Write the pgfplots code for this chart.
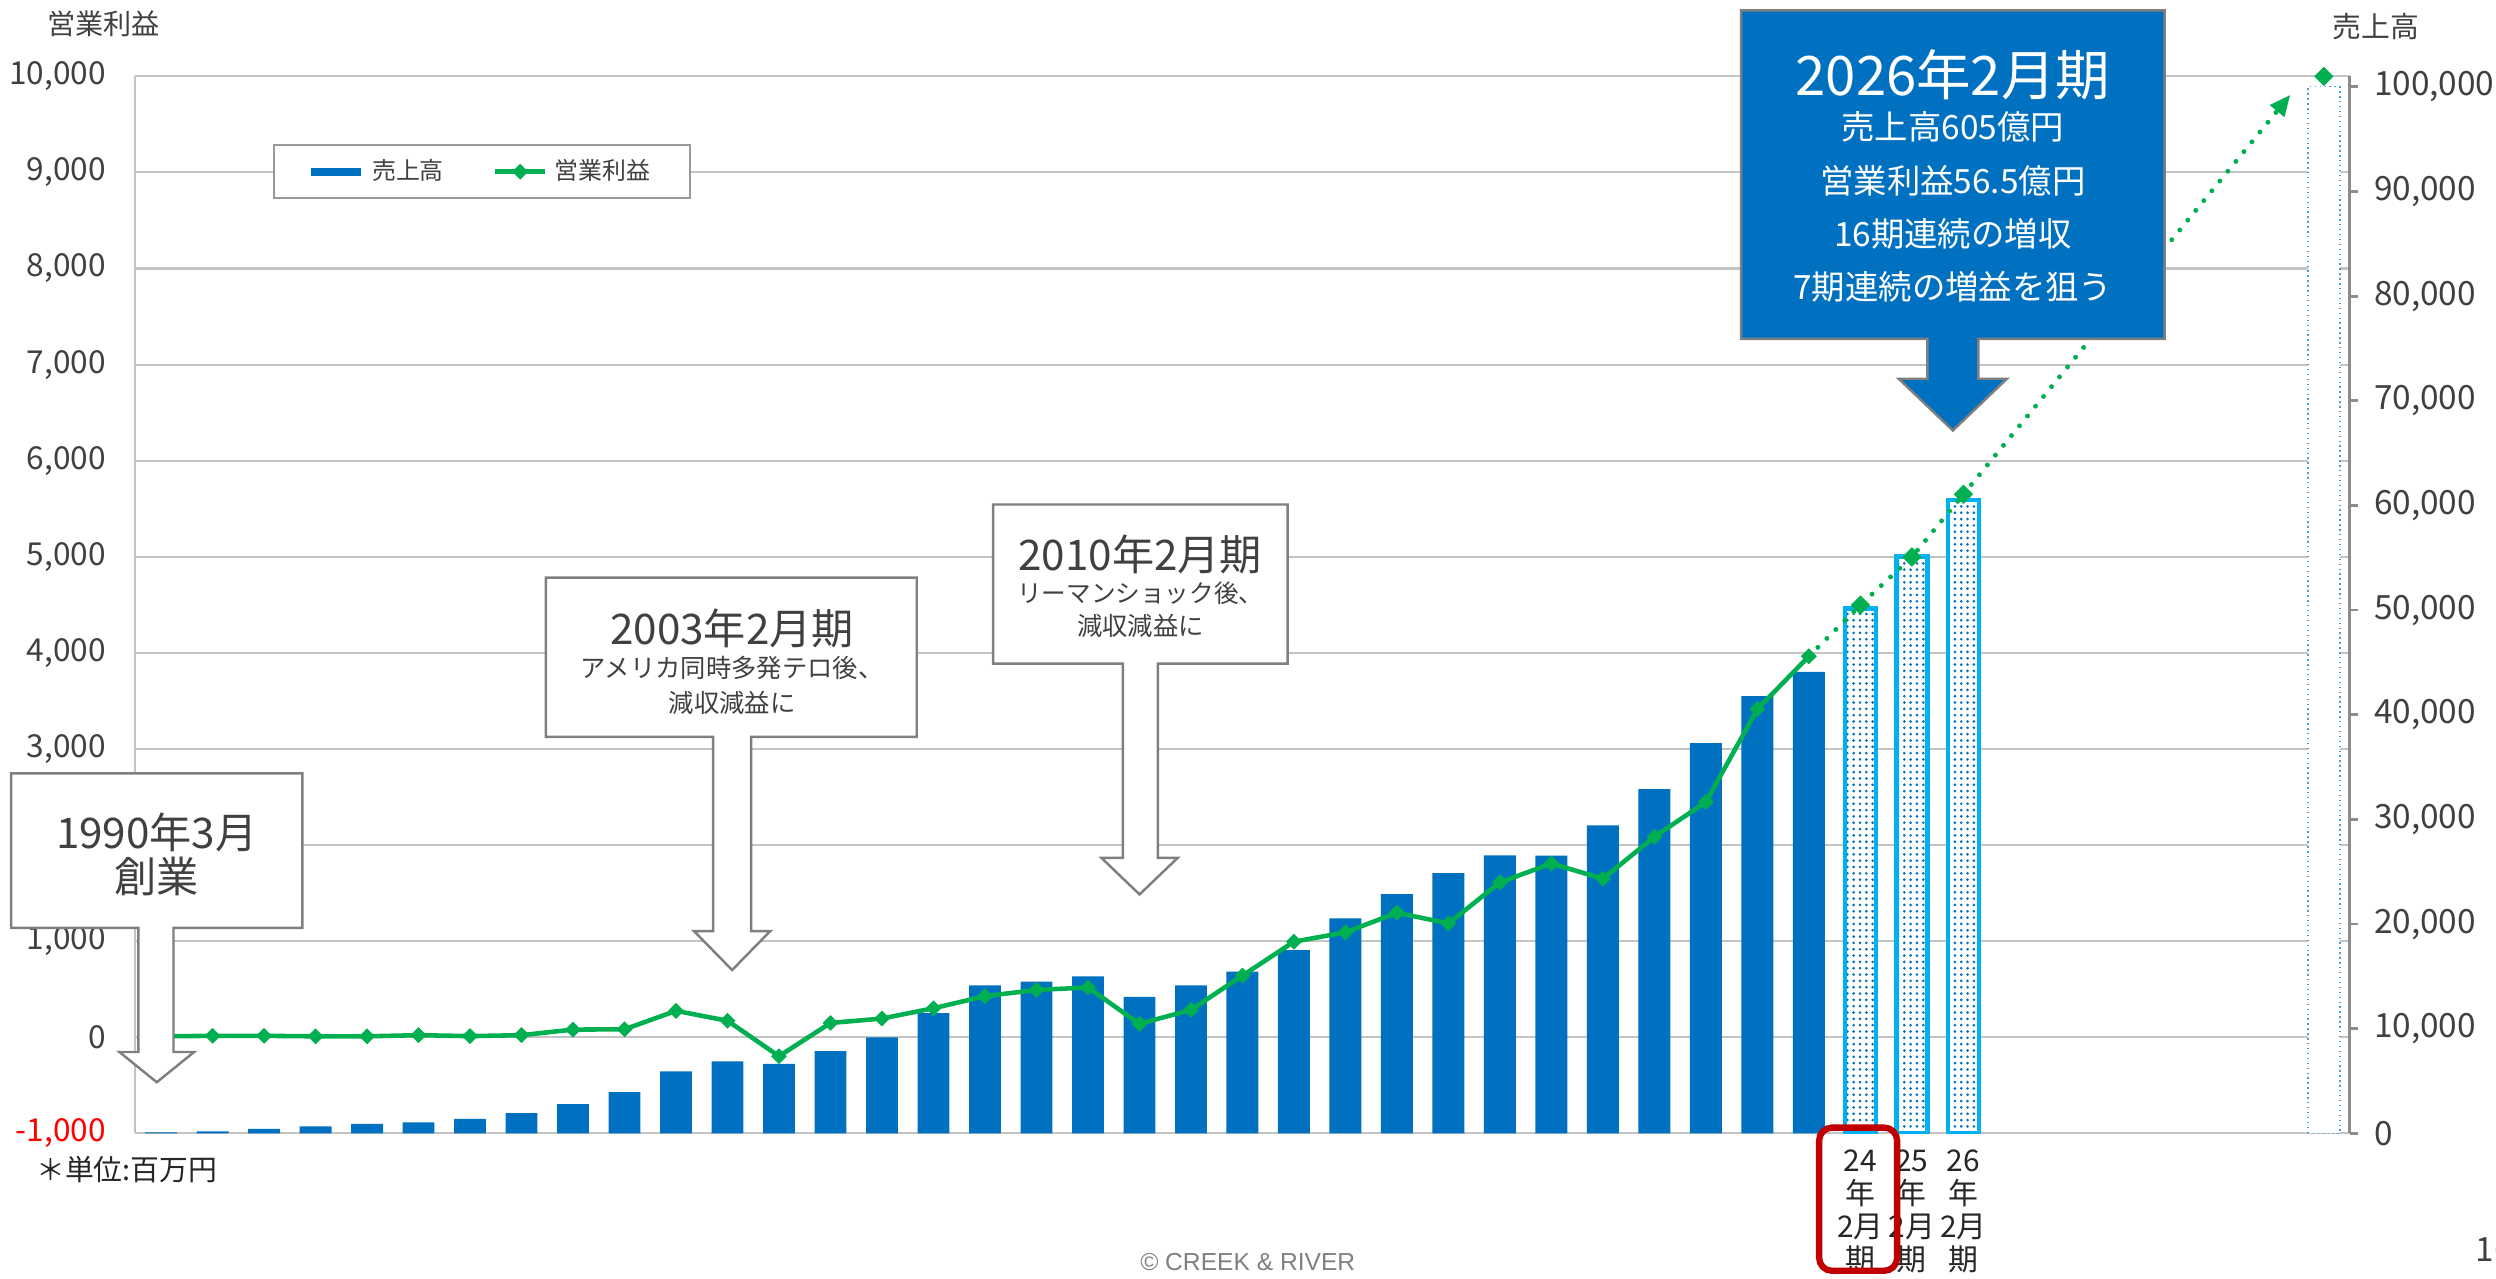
\documentclass[border=0pt]{standalone}
\usepackage{fontspec}
\setmainfont{Noto Sans CJK JP}
\newfontfamily\arialf{Liberation Sans}
\usepackage{pgfplots}
\usepackage{pgfplotstable}
\pgfplotsset{compat=1.18}
\usetikzlibrary{patterns.meta, arrows.meta}
\definecolor{barblue}{HTML}{0070C0}
\definecolor{lgreen}{HTML}{00B050}
\definecolor{cyanb}{HTML}{00B0F0}
\definecolor{gridgray}{HTML}{C4C4C4}
\definecolor{axisgray}{HTML}{8C8C8C}
\definecolor{txt}{HTML}{404040}
\definecolor{boxgray}{HTML}{7F7F7F}
\definecolor{darkred}{HTML}{C00000}

\pgfplotstableread{
x y
0 100
1 180
2 420
3 670
4 900
5 1060
6 1380
7 1940
8 2790
9 3950
10 5920
11 6880
12 6630
13 7860
14 9170
15 11500
16 14150
17 14500
18 15000
19 13050
20 14130
21 15450
22 17500
23 20550
24 22850
25 24860
26 26570
27 26530
28 29430
29 32890
30 37300
31 41770
32 44090
}\sales
\pgfplotstableread{
x y
33 50150
34 55100
35 60500
}\salesfc
\pgfplotstableread{
x y
0 10
1 15
2 15
3 10
4 10
5 22
6 12
7 22
8 80
9 83
10 275
11 172
12 -197
13 149
14 195
15 302
16 428
17 493
18 518
19 140
20 285
21 642
22 995
23 1092
24 1296
25 1185
26 1612
27 1808
28 1650
29 2086
30 2449
31 3415
32 3965
}\profit
\pgfplotstableread{
x y
32 3965
33 4498
34 4998
35 5650
}\profitfc
\pgfplotstableread{
x y
33 4498
34 4998
35 5650
42 10000
}\profitfcmarks

\pgfplotsset{
  base/.style={at={(1.353cm,1.4485cm)}, anchor=south west, width=22.142cm, height=10.570cm, scale only axis, xmin=-0.5, xmax=42.5, scaled y ticks=false, scaled x ticks=false},
  shortleg/.style={legend image code/.code={\draw[mark repeat=2,mark phase=2,##1] plot coordinates {(0cm,0cm)(0.25cm,0cm)(0.5cm,0cm)};}},
  barleg/.style={legend image code/.code={\draw[line width=2.3pt, barblue] (0cm,0cm) -- (0.5cm,0cm);}}
}

\begin{document}
\begin{tikzpicture}
\useasboundingbox (0,0) rectangle (24.959cm,12.782cm);

% left axis with grid
\begin{axis}[base, ymin=-1000, ymax=10000, hide x axis,
  axis y line*=left, y axis line style={draw=gridgray, line width=0.6pt},
  ytick={-1000,0,...,10000},
  yticklabels={{\textcolor{red}{-1,000}},{0},{1,000},{},{3,000},{4,000},{5,000},{6,000},{7,000},{8,000},{9,000},{10,000}},
  ymajorgrids, grid style={draw=gridgray, line width=0.6pt},
  major tick length=0pt,
  yticklabel style={font=\fontsize{9}{10}\selectfont, text=txt, xshift=-0.17cm}]
\end{axis}

% right axis with bars
\begin{axis}[base, ymin=0, ymax=101000,
  axis y line*=right, axis x line*=bottom,
  x axis line style={draw=none},
  y axis line style={draw=axisgray, line width=0.8pt},
  ytick={0,10000,...,100000},
  yticklabels={{0},{10,000},{20,000},{30,000},{40,000},{50,000},{60,000},{70,000},{80,000},{90,000},{100,000}},
  yticklabel style={font=\fontsize{9.5}{11}\selectfont, text=txt, xshift=0.04cm},
  tick align=outside, major tick length=0.08cm,
  ytick style={draw=axisgray, line width=0.8pt},
  xtick={33,34,35},
  xticklabels={{24\\年\\2月\\期},{25\\年\\2月\\期},{26\\年\\2月\\期}},
  xtick style={draw=none},
  xticklabel style={align=center, font=\fontsize{8.5}{9.4}\selectfont, text=black!85, yshift=0.04cm}]
\addplot[ybar, bar width=0.62, bar shift=0pt, fill=barblue, draw=none] table[x=x,y=y] {\sales};
\addplot[ybar, bar width=0.6, bar shift=0pt, preaction={fill=white}, pattern={Dots[distance=1.8pt, radius=0.42pt]}, pattern color=barblue, draw=cyanb, line width=1.3pt] table[x=x,y=y] {\salesfc};
\addplot[ybar, bar width=0.62, bar shift=0pt, fill=white, draw=barblue!70, densely dotted, line width=0.4pt] coordinates {(42,100000)};
\end{axis}

% line axis
\begin{axis}[base, ymin=-1000, ymax=10000, hide axis, clip=false,
  legend columns=2,
  legend style={at={(0.1566,0.9098)}, anchor=center, draw=boxgray!80, line width=0.6pt, fill=white,
    font=\fontsize{6.8}{8}\selectfont, text=txt, inner xsep=0.33cm, inner ysep=0.07cm,
    /tikz/every even column/.append style={column sep=0.42cm}, cells={anchor=west}}]
\addlegendimage{barleg}
\addlegendentry{売上高}
\addplot[lgreen, line width=1.3pt, mark=square*, mark size=1.45pt, mark options={rotate=45, solid, line width=0.3pt}, shortleg] table[x=x,y=y] {\profit};
\addlegendentry{営業利益}
\addplot[lgreen, line width=1.4pt, dash pattern=on 0pt off 3.6pt, line cap=round, forget plot] table[x=x,y=y] {\profitfc};
\addplot[only marks, lgreen, mark=square*, mark size=1.8pt, mark options={rotate=45, solid, line width=0.3pt}, forget plot] table[x=x,y=y] {\profitfcmarks};
\draw[lgreen, line width=1.4pt, dash pattern=on 0pt off 3.6pt, line cap=round, -{Triangle[length=6pt, width=5pt]}] (axis cs:35,5650) -- (axis cs:41.35,9808);
\end{axis}

% annotations (coordinates in px of a 1568x803 frame, y downward)
\begin{scope}[shift={(0,12.782cm)}, x=0.015918cm, y=-0.015918cm]
\node[text=txt, font=\fontsize{8}{9}\selectfont] at (65,15) {営業利益};
\node[text=txt, font=\fontsize{8.2}{9}\selectfont] at (1493,17) {売上高};
\node[text=black!85, font=\fontsize{8.2}{9}\selectfont, anchor=west] at (15,735) {＊単位:百万円};
\node[text=gray, font=\arialf\fontsize{7}{8}\selectfont] at (784,793) {© CREEK \& RIVER};
\node[text=txt, font=\fontsize{9.5}{11}\selectfont, anchor=west, inner sep=0pt] at (1555,785) {16};

% 1990
\draw[boxgray, line width=0.7pt, fill=white] (7,486) -- (190,486) -- (190,583) -- (109,583) -- (109,661) -- (122,661) -- (98.5,680) -- (75,661) -- (87,661) -- (87,583) -- (7,583) -- cycle;
\node[text=txt, font=\fontsize{12}{14}\selectfont] at (98.5,523) {1990年3月};
\node[text=txt, font=\fontsize{12}{14}\selectfont] at (98.5,551) {創業};

% 2003
\draw[boxgray, line width=0.7pt, fill=white] (343,363) -- (576,363) -- (576,463) -- (472,463) -- (472,585) -- (484,585) -- (460,609.5) -- (436,585) -- (448,585) -- (448,463) -- (343,463) -- cycle;
\node[text=txt, font=\fontsize{12}{14}\selectfont] at (460,394.7) {2003年2月期};
\node[text=txt, font=\fontsize{7.2}{8}\selectfont] at (460,419.8) {アメリカ同時多発テロ後、};
\node[text=txt, font=\fontsize{7.2}{8}\selectfont] at (460,441.8) {減収減益に};

% 2010
\draw[boxgray, line width=0.7pt, fill=white] (624,317) -- (809,317) -- (809,417) -- (727.5,417) -- (727.5,539) -- (740,539) -- (716,562) -- (692,539) -- (705.5,539) -- (705.5,417) -- (624,417) -- cycle;
\node[text=txt, font=\fontsize{12}{14}\selectfont] at (716.5,348.6) {2010年2月期};
\node[text=txt, font=\fontsize{7}{8}\selectfont] at (716.5,372.5) {リーマンショック後、};
\node[text=txt, font=\fontsize{7.2}{8}\selectfont] at (716.5,393.5) {減収減益に};

% 2026
\draw[boxgray, line width=0.7pt, fill=barblue] (1094,6.5) -- (1360,6.5) -- (1360,213) -- (1243,213) -- (1243,238) -- (1261,238) -- (1227,270.5) -- (1193,238) -- (1211,238) -- (1211,213) -- (1094,213) -- cycle;
\node[text=white, font=\fontsize{15.5}{17}\selectfont] at (1227,46.9) {2026年2月期};
\node[text=white, font=\fontsize{9.5}{11}\selectfont] at (1227,80) {売上高605億円};
\node[text=white, font=\fontsize{9.5}{11}\selectfont] at (1227,113.7) {営業利益56.5億円};
\node[text=white, font=\fontsize{9.5}{11}\selectfont] at (1227,147) {16期連続の増収};
\node[text=white, font=\fontsize{9.5}{11}\selectfont] at (1227,180.3) {7期連続の増益を狙う};

% red frame
\draw[darkred, line width=1.8pt, rounded corners=0.13cm] (1143,708.5) rectangle (1192,798.5);
\end{scope}
\end{tikzpicture}
\end{document}
